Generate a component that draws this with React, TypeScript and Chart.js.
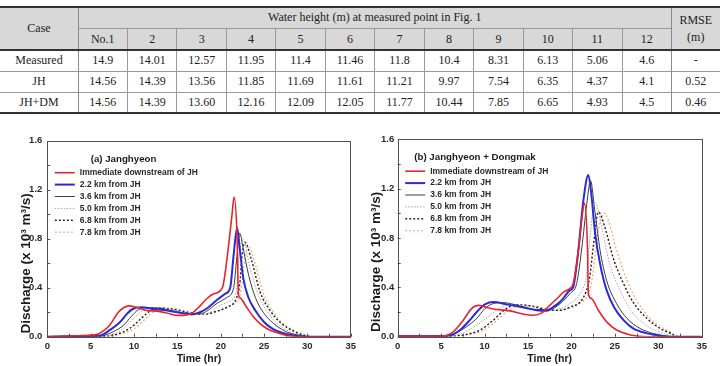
import React, { useEffect, useRef } from 'react';
import { Chart, registerables } from 'chart.js';

Chart.register(...registerables);

const SANS = '"Liberation Sans", Arial, Helvetica, sans-serif';
const SERIF = '"Liberation Serif", "Times New Roman", serif';

// ---------- Table data ----------
const pointLabels = ['No.1', '2', '3', '4', '5', '6', '7', '8', '9', '10', '11', '12'];
const caseLabels = ['Measured', 'JH', 'JH+DM'];
const measuredHeights = ['14.9', '14.01', '12.57', '11.95', '11.4', '11.46', '11.8', '10.4', '8.31', '6.13', '5.06', '4.6'];
const jhHeights = ['14.56', '14.39', '13.56', '11.85', '11.69', '11.61', '11.21', '9.97', '7.54', '6.35', '4.37', '4.1'];
const jhDmHeights = ['14.56', '14.39', '13.60', '12.16', '12.09', '12.05', '11.77', '10.44', '7.85', '6.65', '4.93', '4.5'];
const rmseValues = ['-', '0.52', '0.46'];

// ---------- Hydrograph data: time (hr) and discharge (x 10^3 m^3/s) ----------
const seriesLabels = [
  'Immediate downstream of JH',
  '2.2 km from JH',
  '3.6 km from JH',
  '5.0 km from JH',
  '6.8 km from JH',
  '7.8 km from JH',
];

// (a) Janghyeon
const jhImmT = [0, 2, 4, 5.5, 6.3, 7.2, 8.2, 8.8, 9.4, 10.3, 11.5, 12.6, 13.8, 14.9, 15.7, 16.7, 17.6, 18.4, 19.2, 20.2, 20.7, 21.3, 21.55, 21.9, 22.05, 22.2, 23.0, 23.8, 24.5, 25.3, 26.5, 27.6, 29, 35];
const jhImmQ = [0, 0.005, 0.01, 0.015, 0.04, 0.094, 0.2, 0.236, 0.252, 0.24, 0.214, 0.209, 0.193, 0.174, 0.174, 0.193, 0.25, 0.31, 0.35, 0.4, 0.62, 0.99, 1.14, 0.8, 0.34, 0.32, 0.24, 0.16, 0.108, 0.067, 0.032, 0.011, 0, 0];
const jh22T = [0, 4, 5.5, 6.1, 7.2, 8.4, 9.2, 9.9, 10.9, 12.2, 13.8, 15.3, 16.7, 17.6, 18.4, 19.5, 20.5, 21.1, 21.5, 21.9, 22.2, 22.6, 23.2, 24.0, 25.0, 26.1, 27.6, 28.8, 30, 35];
const jh22Q = [0, 0.005, 0.008, 0.01, 0.054, 0.12, 0.188, 0.228, 0.24, 0.228, 0.214, 0.196, 0.182, 0.2, 0.23, 0.295, 0.35, 0.4, 0.67, 0.89, 0.72, 0.48, 0.32, 0.214, 0.12, 0.059, 0.022, 0.006, 0, 0];
const jh36T = [0, 5, 6.1, 7.6, 8.8, 9.7, 10.5, 11.3, 12.6, 14.5, 16.1, 17.6, 18.4, 19.5, 20.7, 21.5, 21.85, 22.2, 22.6, 23.2, 24.0, 24.9, 26.1, 27.6, 29.2, 30.5, 35];
const jh36Q = [0, 0.003, 0.005, 0.04, 0.094, 0.166, 0.22, 0.236, 0.235, 0.21, 0.188, 0.188, 0.209, 0.268, 0.32, 0.4, 0.64, 0.845, 0.72, 0.51, 0.32, 0.2, 0.108, 0.04, 0.01, 0, 0];
const jh50T = [0, 5, 6.5, 8.0, 9.2, 10.1, 11.1, 12.2, 13.8, 16.1, 17.6, 18.8, 19.5, 21.1, 21.8, 22.0, 22.25, 22.55, 23.4, 24.3, 25.3, 26.5, 28.0, 29.5, 31, 35];
const jh50Q = [0, 0.002, 0.005, 0.03, 0.094, 0.16, 0.214, 0.236, 0.228, 0.196, 0.182, 0.2, 0.24, 0.295, 0.375, 0.56, 0.72, 0.8, 0.56, 0.35, 0.214, 0.108, 0.04, 0.006, 0, 0];
const jh68T = [0, 5, 6.5, 8.0, 9.5, 10.7, 11.65, 12.8, 14.2, 16.1, 17.6, 18.8, 19.2, 20.7, 21.85, 22.2, 22.5, 22.8, 23.6, 24.5, 25.7, 26.9, 28.4, 29.9, 31, 35];
const jh68Q = [0, 0.002, 0.004, 0.02, 0.067, 0.14, 0.2, 0.235, 0.228, 0.2, 0.182, 0.19, 0.2, 0.24, 0.32, 0.43, 0.68, 0.77, 0.615, 0.375, 0.214, 0.115, 0.046, 0.006, 0, 0];
const jh78T = [0, 5, 7, 8.4, 9.9, 11.1, 12.0, 13.2, 14.5, 16.1, 17.6, 18.8, 20.0, 21.3, 22.0, 22.4, 22.8, 23.2, 24.0, 24.9, 26.1, 27.2, 28.8, 30.3, 31.5, 35];
const jh78Q = [0, 0.002, 0.005, 0.02, 0.06, 0.13, 0.19, 0.23, 0.23, 0.205, 0.185, 0.19, 0.22, 0.26, 0.3, 0.4, 0.64, 0.74, 0.59, 0.36, 0.2, 0.108, 0.04, 0.006, 0, 0];

// (b) Janghyeon + Dongmak
const dmImmT = [0, 3, 5, 5.6, 6.4, 7.55, 8.5, 9.28, 10.25, 11.4, 12.9, 14.5, 15.6, 16.6, 17.5, 18.5, 19.06, 19.8, 20.2, 20.8, 21.2, 21.5, 21.85, 21.95, 22.3, 23.1, 24.06, 25.2, 26.4, 27.5, 29, 35];
const dmImmQ = [0.005, 0.005, 0.006, 0.01, 0.04, 0.134, 0.228, 0.254, 0.236, 0.22, 0.209, 0.182, 0.174, 0.193, 0.254, 0.32, 0.36, 0.39, 0.43, 0.7, 0.96, 1.083, 0.72, 0.35, 0.31, 0.214, 0.12, 0.054, 0.022, 0.006, 0, 0];
const dm22T = [0, 5, 6.0, 7.17, 8.3, 9.28, 10.05, 11.0, 12.55, 14.5, 16.0, 17.15, 17.9, 18.5, 19.06, 19.8, 20.2, 20.8, 21.37, 21.95, 22.3, 22.7, 23.3, 24.06, 25.0, 26.0, 27.1, 28.7, 30.2, 31.5, 35];
const dm22Q = [0.005, 0.005, 0.01, 0.054, 0.134, 0.214, 0.262, 0.281, 0.262, 0.236, 0.214, 0.21, 0.24, 0.27, 0.31, 0.375, 0.4, 0.7, 1.1, 1.31, 1.15, 0.856, 0.59, 0.375, 0.228, 0.134, 0.067, 0.027, 0.008, 0, 0];
const dm36T = [0, 5, 6.4, 7.9, 9.1, 10.05, 11.0, 12.16, 14.08, 16.0, 17.5, 18.7, 19.84, 20.6, 21.2, 21.76, 22.2, 22.7, 23.3, 24.06, 25.2, 26.4, 27.9, 29.4, 31.0, 32, 35];
const dm36Q = [0.005, 0.005, 0.02, 0.08, 0.148, 0.228, 0.268, 0.276, 0.249, 0.22, 0.22, 0.268, 0.35, 0.43, 0.72, 1.07, 1.263, 1.017, 0.7, 0.455, 0.268, 0.148, 0.067, 0.027, 0.005, 0, 0];
const dm50T = [0, 5, 7.17, 9.1, 10.4, 11.8, 13.3, 15.2, 17.15, 18.3, 19.84, 21.0, 21.76, 22.1, 22.7, 23.5, 24.4, 25.6, 26.7, 28.3, 29.8, 31.35, 32.5, 35];
const dm50Q = [0.005, 0.005, 0.02, 0.094, 0.16, 0.236, 0.262, 0.246, 0.214, 0.22, 0.268, 0.35, 0.51, 0.776, 1.09, 0.883, 0.59, 0.375, 0.228, 0.108, 0.046, 0.013, 0, 0];
const dm68T = [0, 5, 7.55, 9.47, 11.0, 12.35, 13.7, 15.6, 17.5, 18.7, 19.84, 21.4, 22.1, 22.5, 23.1, 23.87, 24.8, 26.0, 27.1, 28.7, 30.2, 31.35, 32.3, 35];
const dm68Q = [0.005, 0.005, 0.015, 0.054, 0.134, 0.22, 0.26, 0.246, 0.214, 0.214, 0.24, 0.32, 0.48, 0.72, 1.01, 0.883, 0.64, 0.43, 0.28, 0.148, 0.067, 0.03, 0, 0];
const dm78T = [0, 5, 7.9, 9.86, 11.4, 12.7, 14.1, 16.0, 17.9, 19.84, 21.0, 21.76, 22.3, 22.7, 23.2, 23.8, 24.3, 25.2, 26.4, 27.5, 29.05, 30.6, 31.35, 32.3, 35];
const dm78Q = [0.005, 0.005, 0.015, 0.05, 0.13, 0.21, 0.25, 0.245, 0.215, 0.23, 0.27, 0.32, 0.43, 0.64, 0.9, 1.0, 0.93, 0.7, 0.455, 0.295, 0.148, 0.067, 0.04, 0, 0];

const xTicks = { min: 0, max: 35, step: 5 };
const yTicks = { min: 0, max: 1.6, step: 0.4 };

// line styles for the six stations
const styles = [
  { color: '#e8242a', width: 1.6, dash: [] as number[] },
  { color: '#2b2bd6', width: 2.0, dash: [] as number[] },
  { color: '#3c3c3c', width: 1.0, dash: [] as number[] },
  { color: '#a6a6a6', width: 1.0, dash: [1.5, 1.5] },
  { color: '#1e1e1e', width: 1.4, dash: [2, 2] },
  { color: '#efb07e', width: 1.3, dash: [2, 2] },
];

type Series = { t: number[]; q: number[] };

const panelA: Series[] = [
  { t: jhImmT, q: jhImmQ },
  { t: jh22T, q: jh22Q },
  { t: jh36T, q: jh36Q },
  { t: jh50T, q: jh50Q },
  { t: jh68T, q: jh68Q },
  { t: jh78T, q: jh78Q },
];
const panelB: Series[] = [
  { t: dmImmT, q: dmImmQ },
  { t: dm22T, q: dm22Q },
  { t: dm36T, q: dm36Q },
  { t: dm50T, q: dm50Q },
  { t: dm68T, q: dm68Q },
  { t: dm78T, q: dm78Q },
];

// Frame, inward ticks, in-plot legend and axis titles
const decorPlugin = {
  id: 'hydroDecor',
  afterDatasetsDraw(chart: any, _args: any, opts: any) {
    const { ctx, chartArea: a, scales } = chart;
    const xs = scales.x;
    const ys = scales.y;
    ctx.save();

    // plot frame
    ctx.strokeStyle = '#505050';
    ctx.lineWidth = 1;
    ctx.setLineDash([]);
    ctx.strokeRect(Math.round(a.left) + 0.5, Math.round(a.top) + 0.5, Math.round(a.right - a.left), Math.round(a.bottom - a.top));

    // inward minor/major ticks
    ctx.beginPath();
    for (let v = xTicks.min; v <= xTicks.max + 1e-9; v += xTicks.step / 2) {
      const px = Math.round(xs.getPixelForValue(v)) + 0.5;
      ctx.moveTo(px, a.bottom);
      ctx.lineTo(px, a.bottom - 3);
    }
    for (let v = yTicks.min; v <= yTicks.max + 1e-9; v += yTicks.step / 2) {
      const py = Math.round(ys.getPixelForValue(v)) + 0.5;
      ctx.moveTo(a.left, py);
      ctx.lineTo(a.left + 3, py);
    }
    ctx.stroke();

    // legend title
    ctx.fillStyle = '#1a1a1a';
    ctx.textBaseline = 'middle';
    ctx.textAlign = 'left';
    ctx.font = `bold 9.7px ${SANS}`;
    ctx.fillText(opts.title, a.left + opts.titleDx, a.top + 18.4);

    // legend rows
    ctx.font = `bold 8.5px ${SANS}`;
    chart.data.datasets.forEach((ds: any, i: number) => {
      const y = a.top + 32 + i * 11.9;
      ctx.strokeStyle = ds.borderColor;
      ctx.lineWidth = ds.borderWidth;
      ctx.setLineDash(ds.borderDash || []);
      ctx.beginPath();
      ctx.moveTo(a.left + 7.5, y);
      ctx.lineTo(a.left + 27.5, y);
      ctx.stroke();
      ctx.fillStyle = '#2a2a2a';
      ctx.fillText(ds.label, a.left + 32.5, y);
    });
    ctx.setLineDash([]);

    // axis titles
    ctx.fillStyle = '#1a1a1a';
    ctx.textAlign = 'center';
    ctx.font = `bold 10.5px ${SANS}`;
    ctx.fillText('Time (hr)', (a.left + a.right) / 2, a.bottom + 22.6);

    ctx.translate(a.left - 21.5, a.top + 122.7);
    ctx.rotate(-Math.PI / 2);
    ctx.font = `bold 13.5px ${SANS}`;
    ctx.fillText('Discharge (x 10³ m³/s)', 0, 0);
    ctx.restore();
  },
};

type PanelProps = {
  left: number;
  series: Series[];
  title: string;
  titleDx: number;
  areaLeft: number;
  areaRight: number;
  yPad: number;
};

const CW = 360;
const CH = 236;

function HydroPanel({ left, series, title, titleDx, areaLeft, areaRight, yPad }: PanelProps) {
  const ref = useRef<HTMLCanvasElement>(null);
  useEffect(() => {
    const tickFont = { family: SANS, size: 9.5, weight: 'bold' as const };
    const chart = new Chart(ref.current as HTMLCanvasElement, {
      type: 'line',
      data: {
        datasets: series.map((s, i) => ({
          label: seriesLabels[i],
          data: s.t.map((t, k) => ({ x: t, y: s.q[k] })),
          borderColor: styles[i].color,
          borderWidth: styles[i].width,
          borderDash: styles[i].dash,
          pointRadius: 0,
          fill: false,
          cubicInterpolationMode: 'monotone' as const,
        })),
      },
      options: {
        animation: false,
        responsive: false,
        layout: { autoPadding: false, padding: { top: 7.3, right: CW - areaRight, bottom: 0, left: 0 } },
        plugins: {
          legend: { display: false },
          tooltip: { enabled: false },
          hydroDecor: { title, titleDx },
        } as any,
        scales: {
          x: {
            type: 'linear',
            min: xTicks.min,
            max: xTicks.max,
            ticks: { stepSize: xTicks.step, padding: 4, color: '#2a2a2a', font: tickFont, callback: (v: any) => String(v) },
            grid: { display: false, drawTicks: false },
            border: { display: false },
            afterFit: (s: any) => { s.height = CH - 206.7; },
          },
          y: {
            type: 'linear',
            min: yTicks.min,
            max: yTicks.max,
            ticks: { stepSize: yTicks.step, padding: yPad, color: '#2a2a2a', font: tickFont, callback: (v: any) => Number(v).toFixed(1) },
            grid: { display: false, drawTicks: false },
            border: { display: false },
            afterFit: (s: any) => { s.width = areaLeft; },
          },
        },
      },
      plugins: [decorPlugin],
    });
    return () => chart.destroy();
  }, []);
  return (
    <canvas
      ref={ref}
      width={CW}
      height={CH}
      style={{ position: 'absolute', left, top: 130, width: CW, height: CH }}
    />
  );
}

// ---------- Table ----------
const rowEdges = [7, 28, 50, 71, 92, 113];
const firstColRight = 78;
const rmseLeft = 671.5;
const colW = (rmseLeft - firstColRight) / pointLabels.length;

function Cell({ x, y, w, h, bg, children }: { x: number; y: number; w: number; h: number; bg?: string; children?: React.ReactNode }) {
  return (
    <div
      style={{
        position: 'absolute', left: x, top: y, width: w, height: h, background: bg || 'transparent',
        display: 'flex', alignItems: 'center', justifyContent: 'center', flexDirection: 'column',
        fontFamily: SERIF, fontSize: 12, color: '#222', lineHeight: '17px', whiteSpace: 'nowrap',
      }}
    >
      {children}
    </div>
  );
}

function HLine({ y, x1, x2, w, c }: { y: number; x1: number; x2: number; w: number; c: string }) {
  return <div style={{ position: 'absolute', left: x1, top: y - w / 2, width: x2 - x1, height: w, background: c }} />;
}
function VLine({ x, y1, y2, c }: { x: number; y1: number; y2: number; c: string }) {
  return <div style={{ position: 'absolute', left: x - 0.5, top: y1, width: 1, height: y2 - y1, background: c }} />;
}

function WaterTable() {
  const headBg = '#d8d8d8';
  const rows = [measuredHeights, jhHeights, jhDmHeights];
  const [r0, r1, r2, r3, r4, r5] = rowEdges;
  const dataTops = [r2, r3, r4];
  return (
    <div style={{ position: 'absolute', left: 0, top: 0, width: 720, height: 120 }}>
      <Cell x={0} y={r0} w={firstColRight} h={r2 - r0} bg={headBg}>Case</Cell>
      <Cell x={firstColRight} y={r0} w={rmseLeft - firstColRight} h={r1 - r0} bg={headBg}>
        Water height (m) at measured point in Fig. 1
      </Cell>
      {pointLabels.map((p, i) => (
        <Cell key={p} x={firstColRight + i * colW} y={r1} w={colW} h={r2 - r1} bg={headBg}>{p}</Cell>
      ))}
      <Cell x={rmseLeft} y={r0} w={720 - rmseLeft} h={r2 - r0} bg={headBg}>
        <span>RMSE</span>
        <span>(m)</span>
      </Cell>
      {rows.map((vals, ri) => (
        <React.Fragment key={caseLabels[ri]}>
          <Cell x={0} y={dataTops[ri]} w={firstColRight} h={21}>{caseLabels[ri]}</Cell>
          {vals.map((v, ci) => (
            <Cell key={ci} x={firstColRight + ci * colW} y={dataTops[ri]} w={colW} h={21}>{v}</Cell>
          ))}
          <Cell x={rmseLeft} y={dataTops[ri]} w={720 - rmseLeft} h={21}>{rmseValues[ri]}</Cell>
        </React.Fragment>
      ))}
      {/* rules */}
      <HLine y={r1} x1={firstColRight} x2={rmseLeft} w={1} c="#9a9a9a" />
      <HLine y={r3} x1={0} x2={720} w={1} c="#9a9a9a" />
      <HLine y={r4} x1={0} x2={720} w={1} c="#9a9a9a" />
      <VLine x={firstColRight} y1={r0} y2={r5} c="#8a8a8a" />
      <VLine x={rmseLeft} y1={r0} y2={r5} c="#8a8a8a" />
      {pointLabels.slice(1).map((p, i) => (
        <VLine key={p} x={firstColRight + (i + 1) * colW} y1={r1} y2={r5} c="#9a9a9a" />
      ))}
      <HLine y={r0} x1={0} x2={720} w={2} c="#333" />
      <HLine y={r2} x1={0} x2={720} w={2} c="#333" />
      <HLine y={r5} x1={0} x2={720} w={2} c="#333" />
    </div>
  );
}

export default function App() {
  return (
    <div style={{ position: 'fixed', left: 0, top: 0, width: 720, height: 366, background: '#fff', overflow: 'hidden' }}>
      <WaterTable />
      <HydroPanel left={0} series={panelA} title="(a) Janghyeon" titleDx={43.4} areaLeft={47.3} areaRight={350.7} yPad={5} />
      <HydroPanel left={360} series={panelB} title="(b) Janghyeon + Dongmak" titleDx={16.6} areaLeft={37.7} areaRight={341.7} yPad={3.5} />
    </div>
  );
}
